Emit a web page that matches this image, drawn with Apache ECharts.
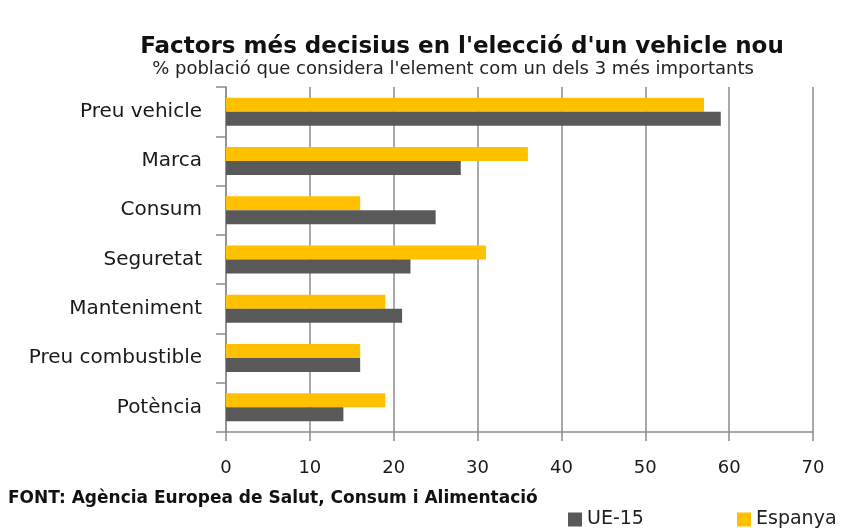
<!DOCTYPE html>
<html>
<head>
<meta charset="utf-8">
<script src="https://cdn.jsdelivr.net/npm/echarts@6/dist/echarts.min.js"></script>
<style>
  html, body { margin: 0; padding: 0; background: #fff; }
  #chart { width: 850px; height: 528px; }
</style>
</head>
<body>
<div id="chart"></div>
<script>
// factors, de dalt a baix
var factors = ['Preu vehicle', 'Marca', 'Consum', 'Seguretat', 'Manteniment', 'Preu combustible', 'Potència'];
var espanya = [57, 36, 16, 31, 19, 16, 19];
var ue15 = [59, 28, 25, 22, 21, 16, 14];
var xTicks = [0, 10, 20, 30, 40, 50, 60, 70];

var font = 'DejaVu Sans';
var gris = '#8c8c8c';

var option = {
    backgroundColor: '#fff',
    animation: false,
    title: [
        {
            text: "Factors més decisius en l'elecció d'un vehicle nou",
            left: 457, top: 31, textAlign: 'center',
            textStyle: { fontFamily: font, fontSize: 23, fontWeight: 'bold', color: '#111' }
        },
        {
            text: "% població que considera l'element com un dels 3 més importants",
            left: 448, top: 55, textAlign: 'center',
            textStyle: { fontFamily: font, fontSize: 18, fontWeight: 'normal', color: '#222' }
        },
        {
            text: 'FONT: Agència Europea de Salut, Consum i Alimentació',
            left: 3, top: 485,
            textStyle: { fontFamily: font, fontSize: 17, fontWeight: 'bold', color: '#111' }
        }
    ],
    legend: [
        {
            data: ['UE-15'], left: 563, top: 505, icon: 'rect', itemWidth: 14, itemHeight: 14, itemGap: 0,
            textStyle: { fontFamily: font, fontSize: 19, color: '#222' }
        },
        {
            data: ['Espanya'], left: 732, top: 505, icon: 'rect', itemWidth: 14, itemHeight: 14, itemGap: 0,
            textStyle: { fontFamily: font, fontSize: 19, color: '#222' }
        }
    ],
    grid: { left: 226, right: 37, top: 87, bottom: 96 },
    xAxis: {
        type: 'value',
        min: xTicks[0],
        max: xTicks[xTicks.length - 1],
        interval: xTicks[1] - xTicks[0],
        axisLine: { show: true, lineStyle: { color: gris, width: 1.5 } },
        axisTick: { show: true, length: 9, lineStyle: { color: gris, width: 1.5 } },
        splitLine: { show: true, lineStyle: { color: gris, width: 1.5 } },
        axisLabel: { margin: 27, fontFamily: font, fontSize: 18, color: '#1a1a1a' }
    },
    yAxis: {
        type: 'category',
        inverse: true,
        data: factors,
        axisLine: { show: true, lineStyle: { color: gris, width: 1.5 } },
        axisTick: { show: true, length: 10, lineStyle: { color: gris, width: 1.5 } },
        axisLabel: { margin: 24, fontFamily: font, fontSize: 20, color: '#1a1a1a' }
    },
    series: [
        {
            name: 'Espanya',
            type: 'bar',
            data: espanya,
            barWidth: 14,
            barGap: '0%',
            itemStyle: { color: '#FFC000' }
        },
        {
            name: 'UE-15',
            type: 'bar',
            data: ue15,
            barWidth: 14,
            barGap: '0%',
            itemStyle: { color: '#595959' }
        }
    ]
};

echarts.init(document.getElementById('chart'), null, { renderer: 'canvas' }).setOption(option);
</script>
</body>
</html>
